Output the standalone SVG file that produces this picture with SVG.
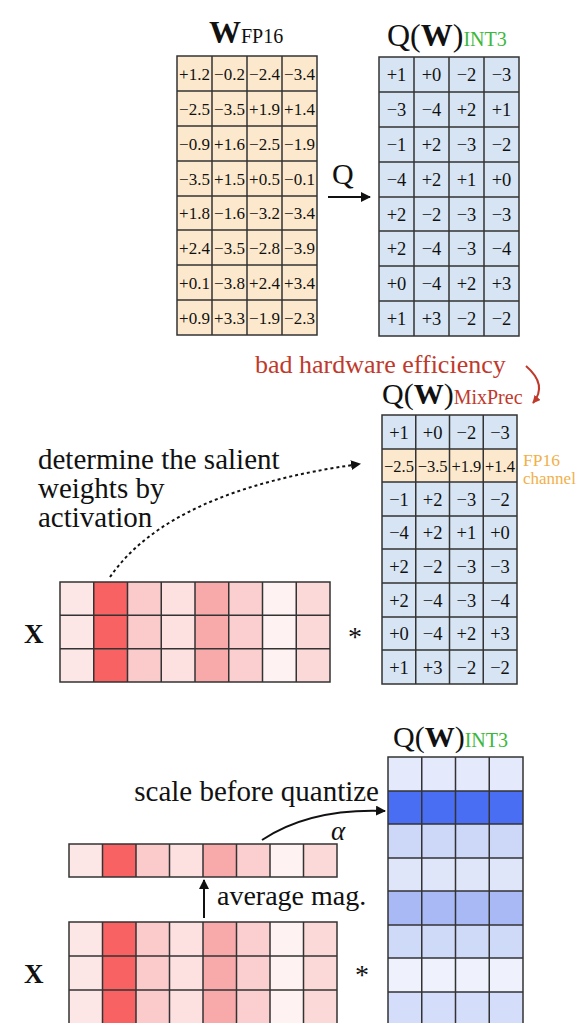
<svg xmlns="http://www.w3.org/2000/svg" width="581" height="1023" viewBox="0 0 581 1023">
<defs>
<style>
text{font-family:"Liberation Serif","Times New Roman",serif;fill:#111}
.num{font-size:17px;text-anchor:middle}
.int{font-size:18.5px;text-anchor:middle}
.title{font-size:32px}
.lbl{font-size:29px}
.red{fill:#c0392b}
.green{fill:#3cb83c}
.orange{fill:#f2b04a}
.grid{fill:none;stroke:#333;stroke-width:1.5}
.peach{fill:#fce9cd}
.blue{fill:#d6e4f3}
.conn{fill:none;stroke:#111;stroke-width:2}
</style>
<marker id="ah" viewBox="0 0 10 10" refX="9" refY="5" markerWidth="5" markerHeight="5" orient="auto"><path d="M0,0 L10,5 L0,10 z" fill="#111"/></marker>
<marker id="ahr" viewBox="0 0 10 10" refX="9" refY="5" markerWidth="4" markerHeight="4" orient="auto"><path d="M0,0 L10,5 L0,10 z" fill="#c0392b"/></marker>
</defs>
<rect width="581" height="1023" fill="#fff"/>

<g id="w-fp16">
<text x="209" y="43" class="title"><tspan font-weight="bold">W</tspan><tspan font-size="20">FP16</tspan></text>
<rect x="177" y="56" width="140" height="279" class="peach"/>
<path class="grid" d="M177,56H317V335H177Z M212,56V335 M247,56V335 M282,56V335 M177,91H317 M177,126H317 M177,161H317 M177,196H317 M177,230H317 M177,265H317 M177,300H317"/>
<g class="num">
<text x="194.5" y="79.5">+1.2</text><text x="229.5" y="79.5">−0.2</text><text x="264.5" y="79.5">−2.4</text><text x="299.5" y="79.5">−3.4</text>
<text x="194.5" y="114.5">−2.5</text><text x="229.5" y="114.5">−3.5</text><text x="264.5" y="114.5">+1.9</text><text x="299.5" y="114.5">+1.4</text>
<text x="194.5" y="149.5">−0.9</text><text x="229.5" y="149.5">+1.6</text><text x="264.5" y="149.5">−2.5</text><text x="299.5" y="149.5">−1.9</text>
<text x="194.5" y="184.5">−3.5</text><text x="229.5" y="184.5">+1.5</text><text x="264.5" y="184.5">+0.5</text><text x="299.5" y="184.5">−0.1</text>
<text x="194.5" y="219">+1.8</text><text x="229.5" y="219">−1.6</text><text x="264.5" y="219">−3.2</text><text x="299.5" y="219">−3.4</text>
<text x="194.5" y="253.5">+2.4</text><text x="229.5" y="253.5">−3.5</text><text x="264.5" y="253.5">−2.8</text><text x="299.5" y="253.5">−3.9</text>
<text x="194.5" y="288.5">+0.1</text><text x="229.5" y="288.5">−3.8</text><text x="264.5" y="288.5">+2.4</text><text x="299.5" y="288.5">+3.4</text>
<text x="194.5" y="323.5">+0.9</text><text x="229.5" y="323.5">+3.3</text><text x="264.5" y="323.5">−1.9</text><text x="299.5" y="323.5">−2.3</text>
</g>
</g>

<g id="q-label">
<text x="332" y="184" font-size="30">Q</text>
</g>

<g id="qw-int3-top">
<text x="387" y="46" class="title">Q(<tspan font-weight="bold">W</tspan>)<tspan font-size="20" class="green">INT3</tspan></text>
<rect x="379" y="57" width="140" height="279" class="blue"/>
<path class="grid" d="M379,57H519V336H379Z M414,57V336 M449,57V336 M484,57V336 M379,92H519 M379,127H519 M379,162H519 M379,197H519 M379,231H519 M379,266H519 M379,301H519"/>
<g class="int">
<text x="396.5" y="81">+1</text><text x="431.5" y="81">+0</text><text x="466.5" y="81">−2</text><text x="501.5" y="81">−3</text>
<text x="396.5" y="116">−3</text><text x="431.5" y="116">−4</text><text x="466.5" y="116">+2</text><text x="501.5" y="116">+1</text>
<text x="396.5" y="151">−1</text><text x="431.5" y="151">+2</text><text x="466.5" y="151">−3</text><text x="501.5" y="151">−2</text>
<text x="396.5" y="186">−4</text><text x="431.5" y="186">+2</text><text x="466.5" y="186">+1</text><text x="501.5" y="186">+0</text>
<text x="396.5" y="220.5">+2</text><text x="431.5" y="220.5">−2</text><text x="466.5" y="220.5">−3</text><text x="501.5" y="220.5">−3</text>
<text x="396.5" y="255">+2</text><text x="431.5" y="255">−4</text><text x="466.5" y="255">−3</text><text x="501.5" y="255">−4</text>
<text x="396.5" y="290">+0</text><text x="431.5" y="290">−4</text><text x="466.5" y="290">+2</text><text x="501.5" y="290">+3</text>
<text x="396.5" y="325">+1</text><text x="431.5" y="325">+3</text><text x="466.5" y="325">−2</text><text x="501.5" y="325">−2</text>
</g>
</g>

<g id="bad-hw">
<text x="255" y="373" font-size="26" class="red">bad hardware efficiency</text>
</g>

<g id="qw-mixprec">
<text x="382" y="404" font-size="30">Q(<tspan font-weight="bold">W</tspan>)<tspan font-size="20" class="red">MixPrec</tspan></text>
<rect x="382" y="415" width="135" height="269" class="blue"/>
<rect x="382" y="449" width="135" height="33" class="peach"/>
<path class="grid" d="M382,415H517V684H382Z M415.75,415V684 M449.5,415V684 M483.25,415V684 M382,449H517 M382,482H517 M382,516H517 M382,549H517 M382,583H517 M382,617H517 M382,650H517"/>
<g class="int">
<text x="399" y="438.5">+1</text><text x="432.6" y="438.5">+0</text><text x="466.4" y="438.5">−2</text><text x="500" y="438.5">−3</text>
<text x="399" y="471.5" font-size="16.5">−2.5</text><text x="432.6" y="471.5" font-size="16.5">−3.5</text><text x="466.4" y="471.5" font-size="16.5">+1.9</text><text x="500" y="471.5" font-size="16.5">+1.4</text>
<text x="399" y="505.5">−1</text><text x="432.6" y="505.5">+2</text><text x="466.4" y="505.5">−3</text><text x="500" y="505.5">−2</text>
<text x="399" y="539">−4</text><text x="432.6" y="539">+2</text><text x="466.4" y="539">+1</text><text x="500" y="539">+0</text>
<text x="399" y="572.5">+2</text><text x="432.6" y="572.5">−2</text><text x="466.4" y="572.5">−3</text><text x="500" y="572.5">−3</text>
<text x="399" y="606.5">+2</text><text x="432.6" y="606.5">−4</text><text x="466.4" y="606.5">−3</text><text x="500" y="606.5">−4</text>
<text x="399" y="640">+0</text><text x="432.6" y="640">−4</text><text x="466.4" y="640">+2</text><text x="500" y="640">+3</text>
<text x="399" y="673.5">+1</text><text x="432.6" y="673.5">+3</text><text x="466.4" y="673.5">−2</text><text x="500" y="673.5">−2</text>
</g>
<text x="523" y="466" font-size="17.5" class="orange">FP16</text>
<text x="523" y="484" font-size="17" class="orange">channel</text>
</g>

<g id="salient-text">
<text x="38" y="469" class="lbl">determine the salient</text>
<text x="38" y="498" class="lbl">weights by</text>
<text x="38" y="527" class="lbl">activation</text>
</g>

<g id="x-mid">
<text x="24" y="643" font-size="27" font-weight="bold">X</text>
<rect x="60" y="582" width="33.75" height="100" fill="#fde6e6"/>
<rect x="93.75" y="582" width="33.75" height="100" fill="#f96262"/>
<rect x="127.5" y="582" width="33.75" height="100" fill="#fbcaca"/>
<rect x="161.25" y="582" width="33.75" height="100" fill="#fde0e0"/>
<rect x="195" y="582" width="33.75" height="100" fill="#f8aaaa"/>
<rect x="228.75" y="582" width="33.75" height="100" fill="#fbcfcf"/>
<rect x="262.5" y="582" width="33.75" height="100" fill="#fef3f2"/>
<rect x="296.25" y="582" width="33.75" height="100" fill="#fcd9d9"/>
<path class="grid" d="M60,582H330V682H60Z M93.75,582V682 M127.5,582V682 M161.25,582V682 M195,582V682 M228.75,582V682 M262.5,582V682 M296.25,582V682 M60,615.3H330 M60,648.7H330"/>
<text x="355" y="646" font-size="28" text-anchor="middle">*</text>
</g>

<g id="qw-int3-bottom">
<text x="393" y="747" font-size="30">Q(<tspan font-weight="bold">W</tspan>)<tspan font-size="20" class="green">INT3</tspan></text>
<rect x="388" y="757" width="135" height="34" fill="#e4e9fb"/>
<rect x="388" y="791" width="135" height="33" fill="#4a6ef3"/>
<rect x="388" y="824" width="135" height="34" fill="#cdd7f8"/>
<rect x="388" y="858" width="135" height="33" fill="#e0e6fa"/>
<rect x="388" y="891" width="135" height="34" fill="#a8b9f6"/>
<rect x="388" y="925" width="135" height="33" fill="#cfd9f8"/>
<rect x="388" y="958" width="135" height="34" fill="#eff2fd"/>
<rect x="388" y="992" width="135" height="34" fill="#d4ddf9"/>
<path class="grid" d="M388,1026V757H523V1026 M421.75,757V1026 M455.5,757V1026 M489.25,757V1026 M388,791H523 M388,824H523 M388,858H523 M388,891H523 M388,925H523 M388,958H523 M388,992H523"/>
</g>

<g id="scale-text">
<text x="379" y="801" class="lbl" text-anchor="end">scale before quantize</text>
<text x="331" y="840" font-size="27" font-style="italic">α</text>
</g>

<g id="alpha-row">
<rect x="69" y="844" width="33.5" height="33" fill="#fde6e6"/>
<rect x="102.5" y="844" width="33.5" height="33" fill="#f96262"/>
<rect x="136" y="844" width="33.5" height="33" fill="#fbcaca"/>
<rect x="169.5" y="844" width="33.5" height="33" fill="#fde0e0"/>
<rect x="203" y="844" width="33.5" height="33" fill="#f8aaaa"/>
<rect x="236.5" y="844" width="33.5" height="33" fill="#fbcfcf"/>
<rect x="270" y="844" width="33.5" height="33" fill="#fef3f2"/>
<rect x="303.5" y="844" width="33.5" height="33" fill="#fcd9d9"/>
<path class="grid" d="M69,844H337V877H69Z M102.5,844V877 M136,844V877 M169.5,844V877 M203,844V877 M236.5,844V877 M270,844V877 M303.5,844V877"/>
</g>

<g id="avg-text">
<text x="217" y="905" font-size="28">average mag.</text>
</g>

<g id="x-bottom">
<text x="24" y="983" font-size="27" font-weight="bold">X</text>
<rect x="69" y="922" width="33.5" height="102" fill="#fde6e6"/>
<rect x="102.5" y="922" width="33.5" height="102" fill="#f96262"/>
<rect x="136" y="922" width="33.5" height="102" fill="#fbcaca"/>
<rect x="169.5" y="922" width="33.5" height="102" fill="#fde0e0"/>
<rect x="203" y="922" width="33.5" height="102" fill="#f8aaaa"/>
<rect x="236.5" y="922" width="33.5" height="102" fill="#fbcfcf"/>
<rect x="270" y="922" width="33.5" height="102" fill="#fef3f2"/>
<rect x="303.5" y="922" width="33.5" height="102" fill="#fcd9d9"/>
<path class="grid" d="M69,1024V922H337V1024 M102.5,922V1024 M136,922V1024 M169.5,922V1024 M203,922V1024 M236.5,922V1024 M270,922V1024 M303.5,922V1024 M69,956H337 M69,990H337"/>
<text x="362" y="984" font-size="28" text-anchor="middle">*</text>
</g>

<g id="connectors">
<path class="conn" d="M328,197H370" marker-end="url(#ah)"/>
<path d="M526,366 Q548,385 533,403" fill="none" stroke="#c0392b" stroke-width="2" marker-end="url(#ahr)"/>
<path class="conn" d="M110,577 Q170,490 360,464" stroke-dasharray="3,3" marker-end="url(#ah)"/>
<path class="conn" d="M262,840 Q310,808 385,811" marker-end="url(#ah)"/>
<path class="conn" d="M204,918V880" marker-end="url(#ah)"/>
</g>
</svg>
